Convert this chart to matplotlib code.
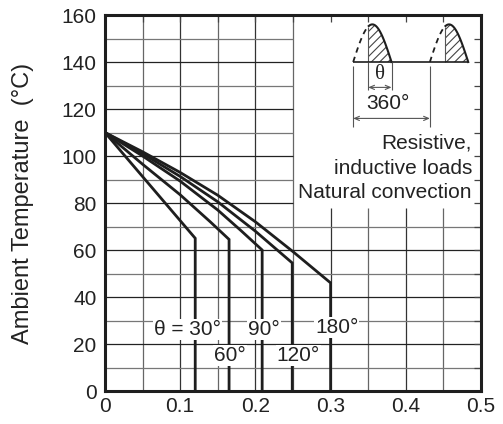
import numpy as np
import matplotlib.pyplot as plt

plt.rcParams["font.family"] = ["Liberation Sans", "DejaVu Sans"]
plt.rcParams["hatch.linewidth"] = 0.8

# curve data: conduction angle -> (on-state current, ambient temperature)
x30 = [0, 0.06, 0.12, 0.12]
t30 = [110, 87.5, 65, 0]
x60 = [0, 0.05, 0.1, 0.14, 0.165, 0.165]
t60 = [110, 96.5, 83.5, 72, 64.5, 0]
x90 = [0, 0.05, 0.1, 0.15, 0.18, 0.209, 0.209]
t90 = [110, 100, 89.3, 77, 68.5, 60, 0]
x120 = [0, 0.05, 0.1, 0.15, 0.2, 0.249, 0.249]
t120 = [110, 101, 91.3, 80.5, 68, 54.5, 0]
x180 = [0, 0.05, 0.1, 0.15, 0.2, 0.25, 0.3, 0.3]
t180 = [110, 101.8, 93, 83.3, 72, 59.3, 46, 0]

xticks = [0, 0.1, 0.2, 0.3, 0.4, 0.5]
xticklabels = ["0", "0.1", "0.2", "0.3", "0.4", "0.5"]
yticks = [0, 20, 40, 60, 80, 100, 120, 140, 160]
xminor = np.arange(0, 0.501, 0.05)
yminor = np.arange(0, 161, 10)

ink = "#1e1e1e"
fs = 15

fig = plt.figure(figsize=(5.03, 4.24), dpi=100)
ax = fig.add_axes([0.2087, 0.0778, 0.7476, 0.8868])
ax.set_xlim(0, 0.5)
ax.set_ylim(0, 160)

# grid, left open in the upper right for the inset
for v in xminor[1:-1]:
    top = 78 if v > 0.26 else 160
    major = abs(v * 10 - round(v * 10)) < 1e-6
    ax.vlines(v, 0, top, color="#333333" if major else "#666666", lw=0.9, zorder=1)
for h in yminor[1:-1]:
    right = 0.25 if h >= 80 else 0.5
    major = h % 20 == 0
    ax.hlines(h, 0, right, color="#222222" if major else "#777777", lw=0.9, zorder=1)

for xs, ts in [(x30, t30), (x60, t60), (x90, t90), (x120, t120), (x180, t180)]:
    ax.plot(xs, ts, color=ink, lw=2.0, solid_joinstyle="miter", zorder=3)

box = dict(fc="white", ec="none", pad=0.8)
ax.text(0.1095, 26, "\u03b8 = 30\u00b0", ha="center", va="center", fontsize=fs, color="#222", bbox=box, zorder=4)
ax.text(0.166, 15.3, "60\u00b0", ha="center", va="center", fontsize=fs, color="#222", bbox=box, zorder=4)
ax.text(0.211, 26, "90\u00b0", ha="center", va="center", fontsize=fs, color="#222", bbox=box, zorder=4)
ax.text(0.257, 15.3, "120\u00b0", ha="center", va="center", fontsize=fs, color="#222", bbox=box, zorder=4)
ax.text(0.308, 27, "180\u00b0", ha="center", va="center", fontsize=fs, color="#222", bbox=box, zorder=4)

ax.text(0.488, 105.5, "Resistive,", ha="right", va="center", fontsize=fs, color="#222")
ax.text(0.488, 94.8, "inductive loads", ha="right", va="center", fontsize=fs, color="#222")
ax.text(0.488, 84.5, "Natural convection", ha="right", va="center", fontsize=fs, color="#222")

# inset waveform sketch
base, amp, half = 140, 16, 0.051
for x0 in [0.330, 0.432]:
    xa = np.linspace(x0, x0 + half, 60)
    ya = base + amp * np.sin(np.pi * (xa - x0) / half)
    cut = x0 + 0.02
    m = xa <= cut
    ax.plot(xa[m], ya[m], color=ink, lw=1.3, ls=(0, (3, 2.5)), zorder=3)
    ax.plot(xa[~m], ya[~m], color=ink, lw=1.5, zorder=3)
    ax.fill_between(xa[~m], base, ya[~m], facecolor="white", edgecolor="#444", hatch="////", lw=0, zorder=2)
    ax.vlines(cut, base, base + amp * np.sin(np.pi * 0.02 / half), color="#555", lw=0.8, zorder=3)
ax.hlines(base, 0.330, 0.483, color=ink, lw=1.2, zorder=3)

ax.vlines([0.350, 0.381], [128, 128], [base, base], color="#555", lw=0.8, zorder=3)
ax.vlines([0.330, 0.432], [112.5, 112.5], [base - 1.5, base - 1.5], color="#555", lw=0.8, zorder=3)
arr = dict(arrowstyle="<->,head_length=0.35,head_width=0.15", color="#555", lw=0.8, shrinkA=0, shrinkB=0)
ax.annotate("", xy=(0.350, 129.2), xytext=(0.381, 129.2), arrowprops=arr)
ax.annotate("", xy=(0.330, 116), xytext=(0.432, 116), arrowprops=arr)
ax.text(0.366, 134.5, "\u03b8", ha="center", va="center", fontsize=fs, color="#222", family=["Liberation Serif"])
ax.text(0.376, 122.2, "360\u00b0", ha="center", va="center", fontsize=fs, color="#222")

# axes frame and ticks
for side in ["top", "right", "bottom", "left"]:
    ax.spines[side].set_linewidth(2.2)
    ax.spines[side].set_color(ink)
    ax.spines[side].set_zorder(5)
ax.set_xticks(xticks)
ax.set_xticklabels(xticklabels)
ax.set_yticks(yticks)
ax.set_yticklabels([str(v) for v in yticks])
ax.set_xticks(xminor, minor=True)
ax.set_yticks(yminor, minor=True)
ax.tick_params(which="both", direction="in", top=True, right=True, length=5, width=0.9, color="#444",
               labelsize=fs, labelcolor="#222")
ax.tick_params(which="both", bottom=False, left=False)
ax.tick_params(axis="x", pad=4)
ax.tick_params(axis="y", pad=6)

ax.set_ylabel("Ambient Temperature  (\u00b0C)", fontsize=17, color="#222")
ax.yaxis.set_label_coords(-0.19, 0.5)

fig.savefig("out.png", dpi=100)
